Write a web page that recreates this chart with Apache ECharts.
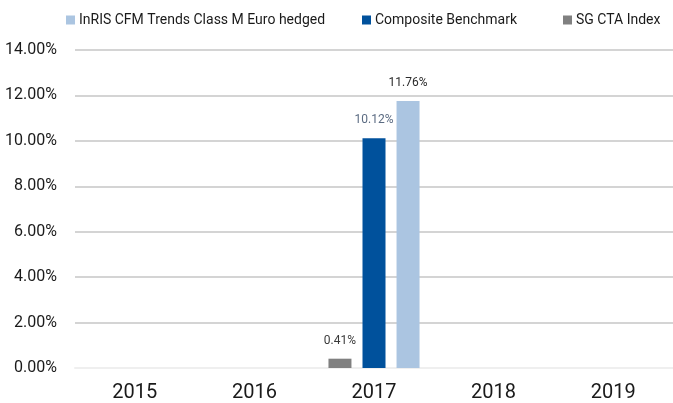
<!DOCTYPE html>
<html><head><meta charset="utf-8">
<script src="https://cdn.jsdelivr.net/npm/echarts@6/dist/echarts.min.js"></script>
<style>html,body{margin:0;padding:0;background:#fff}#c{width:673px;height:403px}</style>
</head><body><div id="c"></div>
<script>
var categories = ['2015', '2016', '2017', '2018', '2019'];
var seriesNames = ['InRIS CFM Trends Class M Euro hedged', 'Composite Benchmark', 'SG CTA Index'];
var sgCta = [null, null, 0.41, null, null];
var composite = [null, null, 10.12, null, null];
var inris = [null, null, 11.76, null, null];
var yTicks = [0, 2, 4, 6, 8, 10, 12, 14];

var nf = "Roboto, 'Liberation Sans', sans-serif";
function lbl(color) {
  return {show: true, position: 'top', distance: 12, fontFamily: nf, fontSize: 12, color: color,
    formatter: function (p) { return p.value.toFixed(2) + '%'; }};
}
function leg(name, left) {
  return {
    top: 12, left: left, itemWidth: 9, itemHeight: 9, icon: 'rect', padding: 0,
    textStyle: {fontFamily: nf, fontSize: 14, lineHeight: 16, color: '#1a1a1a', padding: [0, 0, 0, -1]},
    data: [name]
  };
}
var chart = echarts.init(document.getElementById('c'), null, {renderer: 'canvas'});
chart.setOption({
  animation: false,
  legend: [leg(seriesNames[0], 66), leg(seriesNames[1], 362), leg(seriesNames[2], 563)],
  grid: {left: 75, width: 604, top: 50, bottom: 34, containLabel: false},
  xAxis: {
    type: 'category', data: categories,
    axisLine: {show: true, lineStyle: {color: '#efefef', width: 2}},
    axisTick: {show: false},
    axisLabel: {fontFamily: nf, fontSize: 20, color: '#1a1a1a', margin: 15}
  },
  yAxis: {
    type: 'value', min: yTicks[0], max: yTicks[yTicks.length - 1], interval: 2,
    axisLine: {show: false}, axisTick: {show: false},
    splitLine: {lineStyle: {color: '#c6c6c6', width: 1.5}},
    axisLabel: {fontFamily: nf, fontSize: 16, color: '#1a1a1a', margin: 18,
      formatter: function (v) { return v.toFixed(2) + '%'; }}
  },
  series: [
    {name: seriesNames[2], type: 'bar', data: sgCta, barWidth: 23, barGap: '48%',
      itemStyle: {color: '#808080'}, label: lbl('#3a3a3a')},
    {name: seriesNames[1], type: 'bar', data: composite, barWidth: 23, barGap: '48%',
      itemStyle: {color: '#00519c'}, label: lbl('#5b6b82')},
    {name: seriesNames[0], type: 'bar', data: inris, barWidth: 23, barGap: '48%',
      itemStyle: {color: '#abc5e1'}, label: lbl('#2a2a2a')}
  ]
});
</script></body></html>
